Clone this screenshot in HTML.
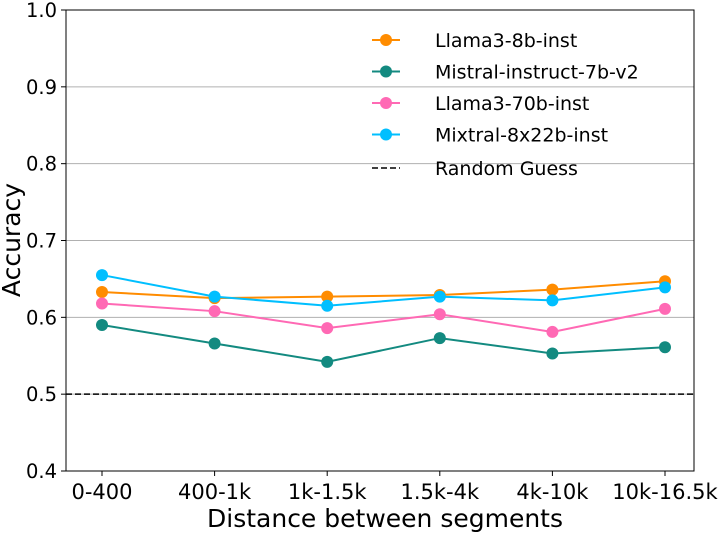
<!DOCTYPE html>
<html><head><meta charset="utf-8"><style>
body{margin:0;background:#fff;}
svg{display:block;font-family:"DejaVu Sans","Liberation Sans",sans-serif;}
</style></head><body>
<svg id="chart" width="722" height="533"></svg>
<script>
const categories=["0-400","400-1k","1k-1.5k","1.5k-4k","4k-10k","10k-16.5k"];
const seriesNames=["Llama3-8b-inst","Mistral-instruct-7b-v2","Llama3-70b-inst","Mixtral-8x22b-inst"];
const llama8=[0.633,0.625,0.627,0.629,0.636,0.647];
const mistral7=[0.590,0.566,0.542,0.573,0.553,0.561];
const llama70=[0.618,0.608,0.586,0.604,0.581,0.611];
const mixtral=[0.655,0.627,0.615,0.627,0.622,0.639];
const yTicks=[0.4,0.5,0.6,0.7,0.8,0.9,1.0];
const randomGuess=0.5;
const colors=["#ff8c00","#138a80","#ff69b4","#00bfff"];
const allSeries=[llama8,mistral7,llama70,mixtral];

const NS="http://www.w3.org/2000/svg";
const svg=document.getElementById("chart");
const L=66,R=694,T=10,B=471;
const xS=i=>102+i*(665-102)/(categories.length-1);
const yS=v=>B-(v-0.4)/0.6*(B-T);
function el(tag,attrs,parent){const e=document.createElementNS(NS,tag);for(const k in attrs)e.setAttribute(k,attrs[k]);(parent||svg).appendChild(e);return e;}

yTicks.forEach(v=>{
  const g=el("line",{x1:L,x2:R,y1:yS(v),y2:yS(v),stroke:"#b0b0b0","stroke-width":1});
  
  
  el("line",{x1:L-5,x2:L,y1:yS(v),y2:yS(v),stroke:"#000"});
  const t=el("text",{x:L-9,y:yS(v)+7,"text-anchor":"end","font-size":19.5});
  t.textContent=v.toFixed(1);
  
  
});
categories.forEach((c,i)=>{
  el("line",{x1:xS(i),x2:xS(i),y1:B,y2:B+5,stroke:"#000"});
  const t=el("text",{x:xS(i),y:B+28,"text-anchor":"middle","font-size":21});
  t.textContent=c;
  
  
});
const rg=el("line",{x1:L,x2:R,y1:yS(randomGuess),y2:yS(randomGuess),stroke:"#000","stroke-width":1.5,"stroke-dasharray":"6,3"});



allSeries.forEach((s,si)=>{
  const p=el("polyline",{points:s.map((v,i)=>xS(i)+","+yS(v)).join(" "),fill:"none",stroke:colors[si],"stroke-width":2});
  
  
  s.forEach((v,i)=>{
    const c=el("circle",{cx:xS(i),cy:yS(v),r:6,fill:colors[si]});
    
    
  });
});

const frame=el("rect",{x:L,y:T,width:R-L,height:B-T,fill:"none",stroke:"#000","stroke-width":1});



const legend=el("g",{});


seriesNames.forEach((n,i)=>{
  const y=40+i*31.5;
  el("line",{x1:372,x2:400,y1:y,y2:y,stroke:colors[i],"stroke-width":2},legend);
  el("circle",{cx:386,cy:y,r:6,fill:colors[i]},legend);
  const t=el("text",{x:435,y:y+7,"font-size":19},legend);
  t.textContent=n;
  
  
});
el("line",{x1:372,x2:400,y1:168,y2:168,stroke:"#000","stroke-width":1.5,"stroke-dasharray":"6,3"},legend);
const rt=el("text",{x:435,y:175,"font-size":19},legend);
rt.textContent="Random Guess";



const xt=el("text",{x:385,y:527,"text-anchor":"middle","font-size":25});
xt.textContent="Distance between segments";


const yt=el("text",{x:0,y:0,"text-anchor":"middle","font-size":25,transform:"translate(20,240) rotate(-90)"});
yt.textContent="Accuracy";


</script>
</body></html>
